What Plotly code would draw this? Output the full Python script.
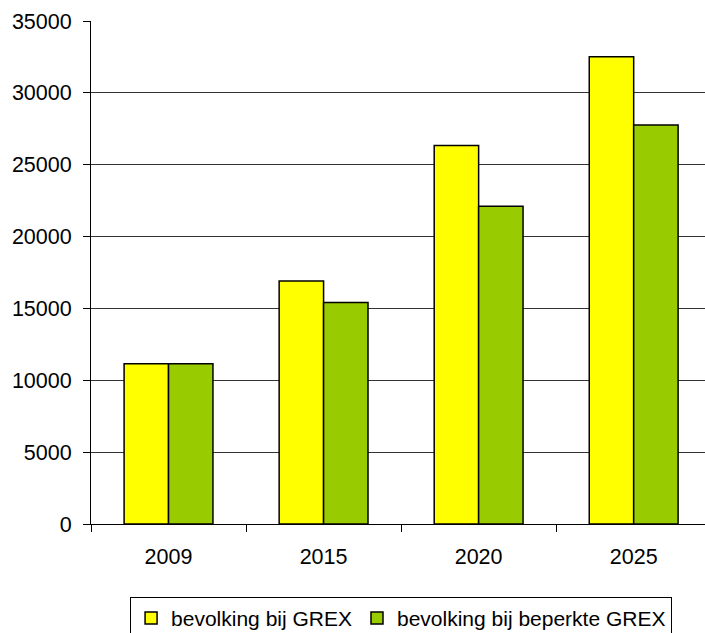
import plotly.graph_objects as go

years = ["2009", "2015", "2020", "2025"]
grex = [11150, 16900, 26330, 32520]
beperkt = [11150, 15420, 22110, 27770]
series_names = ["bevolking bij GREX", "bevolking bij beperkte GREX"]
y_ticks = [0, 5000, 10000, 15000, 20000, 25000, 30000, 35000]

fig = go.Figure()
fig.add_trace(go.Bar(x=years, y=grex, name=series_names[0],
                     marker=dict(color="#FFFF00", line=dict(color="#000000", width=1.5))))
fig.add_trace(go.Bar(x=years, y=beperkt, name=series_names[1],
                     marker=dict(color="#99CC00", line=dict(color="#000000", width=1.5))))

fig.update_layout(
    width=705, height=633,
    margin=dict(l=91, r=0, t=21, b=109, autoexpand=False),
    paper_bgcolor="white", plot_bgcolor="white",
    barmode="group", bargap=0.427, bargroupgap=0,
    font=dict(family="Liberation Sans, Arial, sans-serif", size=21.5, color="#000000"),
    showlegend=True,
    legend=dict(orientation="h", x=0.505, xanchor="center", y=-0.145, yanchor="top",
                bordercolor="#000000", borderwidth=1, font=dict(size=21),
                itemwidth=30, traceorder="normal"),
    xaxis=dict(type="category", range=[-0.5, 3.46], showline=True, linecolor="#000000",
               linewidth=1, ticks="outside", tickson="boundaries", ticklen=7,
               tickcolor="#000000", showgrid=False, tickfont=dict(size=21.5),
               ticklabelstandoff=13),
    yaxis=dict(range=[0, 35000], tickvals=y_ticks, tickformat="d", showline=True,
               linecolor="#000000", linewidth=1, ticks="outside", ticklen=7,
               tickcolor="#000000", showgrid=True, gridcolor="#333333", gridwidth=1,
               zeroline=False, tickfont=dict(size=21.5), ticklabelstandoff=7),
)

fig.write_html("out.html",
               config={"displayModeBar": False},
               post_script="document.body.style.margin='0';document.body.style.overflow='hidden';")
